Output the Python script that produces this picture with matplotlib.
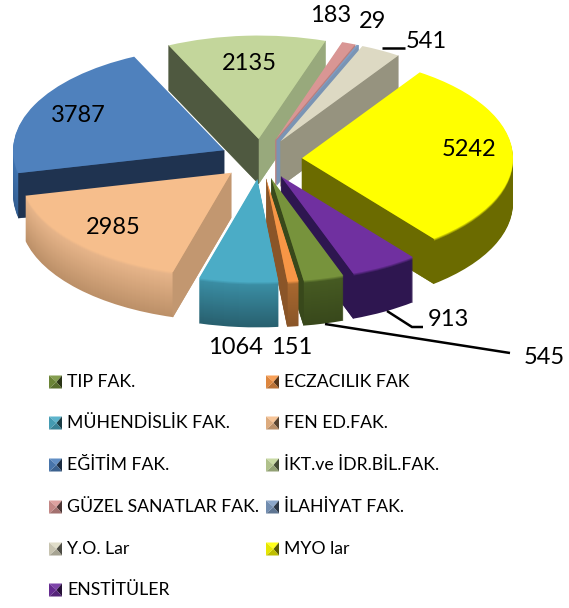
import math
import matplotlib
matplotlib.use("Agg")
import matplotlib.pyplot as plt
from matplotlib.colors import to_rgb
from matplotlib.patches import Polygon

categories = ["TIP FAK.", "ECZACILIK FAK", "MÜHENDİSLİK FAK.", "FEN ED.FAK.", "EĞİTİM FAK.",
              "İKT.ve İDR.BİL.FAK.", "GÜZEL SANATLAR FAK.", "İLAHİYAT FAK.", "Y.O. Lar", "MYO lar", "ENSTİTÜLER"]
values = [545, 151, 1064, 2985, 3787, 2135, 183, 29, 541, 5242, 913]
top_colors = ["#77933C", "#F79646", "#4BACC6", "#F6BE8C", "#4F81BD", "#C3D69B",
              "#D99694", "#7F9DC4", "#DDD9C3", "#FFFF00", "#7030A0"]
rim_top = ["#465A22", "#A8682F", "#3A8DA3", "#E6B489", "#3F73B0", "#AEBF8A",
           "#B97F7D", "#6F8CB0", "#B5B29F", "#6B6B00", "#2E1650"]
rim_bot = ["#38481B", "#8A5528", "#28606F", "#BC9068", "#345F92", "#98A97C",
           "#A06C6A", "#5F7A9C", "#96937F", "#6B6B00", "#2E1650"]
wall_cw = ["#38481B", "#8A5528", "#2A6272", "#C29770", "#1F3350", "#98A97C",
           "#B97F7D", "#7A94B4", "#96937F", "#6B6B00", "#2E1650"]
wall_ccw = ["#38481B", "#6E421C", "#2A6272", "#C29770", "#1F3350", "#4F5940",
            "#B97F7D", "#7A94B4", "#96937F", "#6B6B00", "#2E1650"]

W, H = 569, 608
CX, CY = 261, 159
R = 211
SQUASH = 0.49
THICK = 45
BEVEL = 3
EXPLODE = 41
FONT = "Lato"

def mix(a, b, t):
    a, b = to_rgb(a), to_rgb(b)
    return tuple(a[i] + (b[i] - a[i]) * t for i in range(3))

def rim_color(k, d):
    if d <= BEVEL:
        return mix(top_colors[k], rim_top[k], d / BEVEL)
    return mix(rim_top[k], rim_bot[k], (d - BEVEL) / (THICK - BEVEL))

fig = plt.figure(figsize=(W / 100, H / 100), dpi=100)
ax = fig.add_axes([0, 0, 1, 1])

n = len(values)
def pie_at(depth, colors):
    w, _ = ax.pie(values, explode=[EXPLODE] * n, colors=colors, startangle=-70, counterclock=False,
                  radius=R, center=(CX, (H - CY - depth) / SQUASH), wedgeprops=dict(linewidth=0))
    return w

top = pie_at(0, top_colors)
mids = [(w.theta1 + w.theta2) / 2 for w in top]
order = sorted(range(n), key=lambda i: -math.sin(math.radians(mids[i])))
rank = {idx: r for r, idx in enumerate(order)}

for i, w in enumerate(top):
    w.set_zorder(rank[i] + 0.9)

for d in range(THICK, 0, -1):
    for i, w in enumerate(pie_at(d, [rim_color(k, d) for k in range(n)])):
        w.set_zorder(rank[i] + 0.4 * (1 - d / THICK))

for i, w in enumerate(top):
    cx, cy = w.center
    dy = THICK / SQUASH
    for th, col, visible in ((w.theta1, wall_cw[i], math.cos(math.radians(w.theta1)) > 0),
                             (w.theta2, wall_ccw[i], math.cos(math.radians(w.theta2)) < 0)):
        if not visible:
            continue
        ex = cx + R * math.cos(math.radians(th))
        ey = cy + R * math.sin(math.radians(th))
        ax.add_patch(Polygon([(cx, cy), (ex, ey), (ex, ey - dy), (cx, cy - dy)], closed=True,
                             facecolor=col, edgecolor=col, linewidth=0.3, zorder=rank[i] + 0.6))

ax.set_aspect("auto")
ax.set_xlim(0, W)
ax.set_ylim(0, H / SQUASH)
ax.axis("off")

ov = fig.add_axes([0, 0, 1, 1], facecolor="none")
ov.set_xlim(0, W)
ov.set_ylim(H, 0)
ov.axis("off")

label_pos = [(544, 358), (292, 348), (235, 348), (113, 227), (78, 116), (249, 63),
             (331, 16), (373, 22), (426, 41), (469, 150), (448, 319)]
for v, (x, y) in zip(values, label_pos):
    ov.text(x, y, str(v), fontsize=17, family=FONT, ha="center", va="center", color="black")

for xs, ys in (([382, 405], [48, 48]),
               ([387, 412, 423], [311, 327, 327]),
               ([325, 510], [324, 353])):
    ov.plot(xs, ys, color="black", lw=1.8, solid_capstyle="butt", solid_joinstyle="miter")

col_x = [49, 266]
row_y = [382, 423, 465, 507, 549, 590]
S = 6.5
for i, (name, col) in enumerate(zip(categories, top_colors)):
    x = col_x[i % 2]
    y = row_y[i // 2]
    base = to_rgb(col)
    xc, yc = x + S, y
    c = [(xc - S, yc - S), (xc + S, yc - S), (xc + S, yc + S), (xc - S, yc + S)]
    o = (xc + 1, yc)
    shades = [mix(base, "white", 0.1), mix(base, "black", 0.65), mix(base, "black", 0.25), mix(base, "black", 0.1)]
    for j in range(4):
        ov.add_patch(Polygon([c[j], c[(j + 1) % 4], o], closed=True, facecolor=shades[j], edgecolor="none"))
    ov.text(x + 18.5, y, name, fontsize=12.7, family=FONT, ha="left", va="center", color="black")

fig.savefig("out.png", dpi=100)
